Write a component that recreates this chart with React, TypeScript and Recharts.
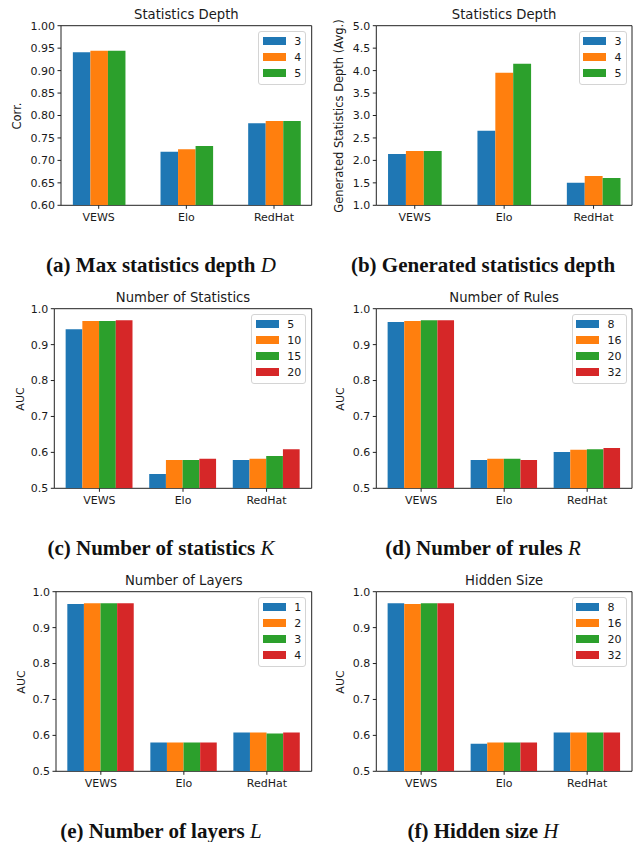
import React from "react";
import { Bar, BarChart, ReferenceArea, XAxis, YAxis } from "recharts";

const categories = ["VEWS", "Elo", "RedHat"];
const colors = ["#1f77b4", "#ff7f0e", "#2ca02c", "#d62728"];

// (a) / (b) statistics depth
const depthLabels = ["3", "4", "5"];
const depthCorr = [
  [0.941, 0.719, 0.783],
  [0.944, 0.725, 0.788],
  [0.944, 0.732, 0.788],
];
const depthGenerated = [
  [2.14, 2.66, 1.5],
  [2.21, 3.95, 1.65],
  [2.21, 4.15, 1.61],
];

// (c) number of statistics
const statLabels = ["5", "10", "15", "20"];
const statAuc = [
  [0.943, 0.54, 0.579],
  [0.966, 0.579, 0.582],
  [0.966, 0.579, 0.59],
  [0.968, 0.582, 0.609],
];

// (d) number of rules
const ruleLabels = ["8", "16", "20", "32"];
const ruleAuc = [
  [0.963, 0.579, 0.601],
  [0.966, 0.582, 0.607],
  [0.968, 0.582, 0.609],
  [0.968, 0.579, 0.612],
];

// (e) number of layers
const layerLabels = ["1", "2", "3", "4"];
const layerAuc = [
  [0.966, 0.58, 0.608],
  [0.968, 0.58, 0.608],
  [0.968, 0.58, 0.605],
  [0.968, 0.58, 0.608],
];

// (f) hidden size
const hiddenLabels = ["8", "16", "20", "32"];
const hiddenAuc = [
  [0.968, 0.577, 0.608],
  [0.966, 0.58, 0.608],
  [0.968, 0.58, 0.608],
  [0.968, 0.58, 0.608],
];

const corrTicks = [0.6, 0.65, 0.7, 0.75, 0.8, 0.85, 0.9, 0.95, 1.0];
const depthTicks = [1.0, 1.5, 2.0, 2.5, 3.0, 3.5, 4.0, 4.5, 5.0];
const aucTicks = [0.5, 0.6, 0.7, 0.8, 0.9, 1.0];

const SANS = "'DejaVu Sans', sans-serif";
const INK = "#1a1a1a";
const PANEL_W = 322;
const CHART_H = 230;
const PLOT_TOP = 25.7;
const PLOT_H = 179.6;

interface PanelProps {
  x0: number;
  y0: number;
  plotLeft: number;
  plotRight: number;
  title: string;
  yLabel: string;
  yLabelX: number;
  yLabelSize?: number;
  seriesLabels: string[];
  values: number[][];
  yTicks: number[];
  digits: number;
  caption: React.ReactNode;
}

function Panel({
  x0,
  y0,
  plotLeft,
  plotRight,
  title,
  yLabel,
  yLabelX,
  yLabelSize = 11,
  seriesLabels,
  values,
  yTicks,
  digits,
  caption,
}: PanelProps) {
  const n = seriesLabels.length;
  // matplotlib-like x limits: bar extent plus 5% margin
  const pad = 0.1 * n + 0.05 * (2 + 0.2 * n);
  const xDomain: [number, number] = [-pad, 2 + pad];
  const plotW = plotRight - plotLeft;
  const barSize = (0.2 * plotW) / (2 + 2 * pad);
  const yDomain: [number, number] = [yTicks[0], yTicks[yTicks.length - 1]];

  const data = categories.map((c, i) => {
    const row: Record<string, number | string> = { x: i, name: c };
    seriesLabels.forEach((_, k) => {
      row["s" + k] = values[k][i];
    });
    return row;
  });

  const localLeft = plotLeft - x0;
  const localRight = plotRight - x0;

  return (
    <div style={{ position: "absolute", left: x0, top: y0, width: PANEL_W, height: 283 }}>
      <BarChart
        width={PANEL_W}
        height={CHART_H}
        data={data}
        barGap={0}
        margin={{ top: PLOT_TOP, right: PANEL_W - localRight, bottom: 0, left: 0 }}
      >
        <XAxis
          dataKey="x"
          type="number"
          domain={xDomain}
          allowDataOverflow
          ticks={[0, 1, 2]}
          interval={0}
          tickFormatter={(v: number) => categories[v]}
          height={CHART_H - PLOT_TOP - PLOT_H}
          axisLine={false}
          tickSize={3.5}
          tickMargin={4.5}
          tickLine={{ stroke: "#222" }}
          tick={{ fontSize: 11, fill: INK, fontFamily: SANS }}
        />
        <YAxis
          type="number"
          domain={yDomain}
          allowDataOverflow
          ticks={yTicks}
          interval={0}
          width={localLeft}
          tickFormatter={(v: number) => v.toFixed(digits)}
          axisLine={false}
          tickSize={3.5}
          tickMargin={2.5}
          tickLine={{ stroke: "#222" }}
          tick={{ fontSize: 11, fill: INK, fontFamily: SANS }}
        />
        {seriesLabels.map((s, k) => (
          <Bar
            key={s}
            dataKey={"s" + k}
            name={s}
            fill={colors[k]}
            barSize={barSize}
            isAnimationActive={false}
          />
        ))}
        <ReferenceArea
          x1={xDomain[0]}
          x2={xDomain[1]}
          y1={yDomain[0]}
          y2={yDomain[1]}
          fill="none"
          fillOpacity={0}
          stroke="#222"
          strokeWidth={1}
          ifOverflow="visible"
        />
      </BarChart>

      <div
        style={{
          position: "absolute",
          left: (localLeft + localRight) / 2,
          top: PLOT_TOP - 11.2,
          transform: "translate(-50%, -50%)",
          fontFamily: SANS,
          fontSize: 13.2,
          color: INK,
          whiteSpace: "nowrap",
          lineHeight: 1,
        }}
      >
        {title}
      </div>

      <div
        style={{
          position: "absolute",
          left: yLabelX - x0,
          top: PLOT_TOP + PLOT_H / 2,
          transform: "translate(-50%, -50%) rotate(-90deg)",
          fontFamily: SANS,
          fontSize: yLabelSize,
          color: INK,
          whiteSpace: "nowrap",
          lineHeight: 1,
        }}
      >
        {yLabel}
      </div>

      <div
        style={{
          position: "absolute",
          right: PANEL_W - localRight + 5.5,
          top: PLOT_TOP + 5.5,
          border: "1px solid #d4d4d4",
          borderRadius: 3,
          background: "rgba(255,255,255,0.8)",
          padding: "1px 4px 3px 3.5px",
          fontFamily: SANS,
          fontSize: 11,
          color: INK,
        }}
      >
        {seriesLabels.map((s, k) => (
          <div key={s} style={{ display: "flex", alignItems: "center", height: 16 }}>
            <span
              style={{
                display: "inline-block",
                width: 23,
                height: 8,
                background: colors[k],
                marginRight: 8.5,
              }}
            />
            <span style={{ lineHeight: 1 }}>{s}</span>
          </div>
        ))}
      </div>

      <div
        style={{
          position: "absolute",
          left: 161,
          top: 264.7,
          transform: "translate(-50%, -50%)",
          fontFamily: "'Liberation Serif', serif",
          fontWeight: 700,
          fontSize: 21,
          color: "#111",
          whiteSpace: "nowrap",
          lineHeight: 1,
        }}
      >
        {caption}
      </div>
    </div>
  );
}

const mathStyle: React.CSSProperties = { fontStyle: "italic", fontWeight: 400 };

export default function App() {
  return (
    <div style={{ position: "relative", width: 644, height: 842, background: "#fff", overflow: "hidden" }}>
      <style>{"body{margin:0}"}</style>
      <Panel
        x0={0}
        y0={0}
        plotLeft={61}
        plotRight={311.7}
        title="Statistics Depth"
        yLabel="Corr."
        yLabelX={18.3}
        yLabelSize={11.5}
        seriesLabels={depthLabels}
        values={depthCorr}
        yTicks={corrTicks}
        digits={2}
        caption={<>(a) Max statistics depth <span style={mathStyle}>D</span></>}
      />
      <Panel
        x0={322}
        y0={0}
        plotLeft={376.3}
        plotRight={632}
        title="Statistics Depth"
        yLabel="Generated Statistics Depth (Avg.)"
        yLabelX={340.3}
        yLabelSize={11.5}
        seriesLabels={depthLabels}
        values={depthGenerated}
        yTicks={depthTicks}
        digits={1}
        caption={<>(b) Generated statistics depth</>}
      />
      <Panel
        x0={0}
        y0={283}
        plotLeft={54.3}
        plotRight={311.7}
        title="Number of Statistics"
        yLabel="AUC"
        yLabelX={20}
        seriesLabels={statLabels}
        values={statAuc}
        yTicks={aucTicks}
        digits={1}
        caption={<>(c) Number of statistics <span style={mathStyle}>K</span></>}
      />
      <Panel
        x0={322}
        y0={283}
        plotLeft={376.3}
        plotRight={632}
        title="Number of Rules"
        yLabel="AUC"
        yLabelX={340.3}
        seriesLabels={ruleLabels}
        values={ruleAuc}
        yTicks={aucTicks}
        digits={1}
        caption={<>(d) Number of rules <span style={mathStyle}>R</span></>}
      />
      <Panel
        x0={0}
        y0={566}
        plotLeft={56}
        plotRight={311.7}
        title="Number of Layers"
        yLabel="AUC"
        yLabelX={20.5}
        seriesLabels={layerLabels}
        values={layerAuc}
        yTicks={aucTicks}
        digits={1}
        caption={<>(e) Number of layers <span style={mathStyle}>L</span></>}
      />
      <Panel
        x0={322}
        y0={566}
        plotLeft={376.3}
        plotRight={632}
        title="Hidden Size"
        yLabel="AUC"
        yLabelX={340.3}
        seriesLabels={hiddenLabels}
        values={hiddenAuc}
        yTicks={aucTicks}
        digits={1}
        caption={<>(f) Hidden size <span style={mathStyle}>H</span></>}
      />
    </div>
  );
}
